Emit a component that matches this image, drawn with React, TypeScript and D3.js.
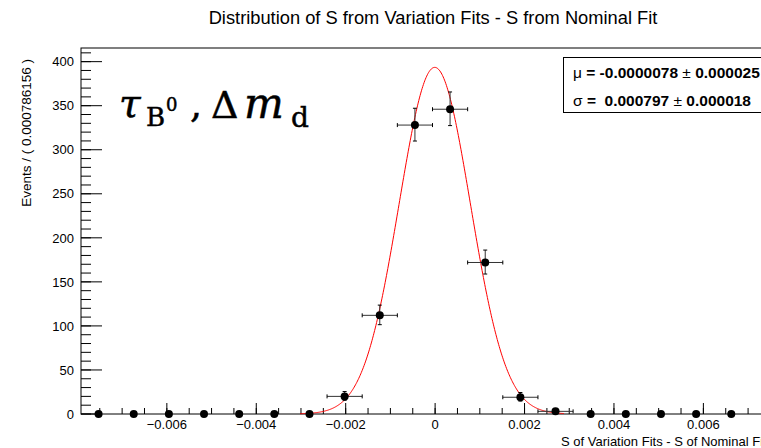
import React from 'react';
import * as d3 from 'd3';

const W = 761;
const H = 448;

// Histogram data (20 bins)
const binCounts = [0, 0, 0, 0, 0, 0, 0, 20, 112, 328, 346, 172, 19, 3, 0, 0, 0, 0, 0, 0];
const errLow = [0, 0, 0, 0, 0, 0, 0, 4.4, 10.6, 18.1, 18.6, 13.1, 4.3, 1.6, 0, 0, 0, 0, 0, 0];
const errHigh = [0, 0, 0, 0, 0, 0, 0, 5.5, 11.6, 19.1, 19.6, 14.1, 5.4, 2.9, 0, 0, 0, 0, 0, 0];
const xMin = -0.00792;
const binWidth = 0.000786156;

// Fit parameters
const fitMu = -0.0000078;
const fitSigma = 0.000797;
const fitN = 1000;
const fitRange = [-0.00302, 0.00288];

// Axis ticks
const yMajorTicks = [0, 50, 100, 150, 200, 250, 300, 350, 400];
const yMinorTicks = d3.range(0, 411, 10);
const xMajorTicks = [-0.006, -0.004, -0.002, 0, 0.002, 0.004, 0.006];
const xTickLabels = ['\u22120.006', '\u22120.004', '\u22120.002', '0', '0.002', '0.004', '0.006'];
const xMinorTicks = d3.range(-0.0075, 0.00751, 0.0005);

const title = 'Distribution of S from Variation Fits - S from Nominal Fit';
const xTitle = 'S of Variation Fits - S of Nominal Fit';
const yTitle = 'Events / ( 0.000786156 )';

export default function App() {
  const left = 81, right = 784, top = 48, bottom = 414;
  const xMax = xMin + binCounts.length * binWidth;
  const x = d3.scaleLinear().domain([xMin, xMax]).range([left, right]);
  const y = d3.scaleLinear().domain([0, 415.5]).range([bottom, top]);

  const centers = binCounts.map((_, i) => xMin + (i + 0.5) * binWidth);
  const amp = (fitN * binWidth) / (fitSigma * Math.sqrt(2 * Math.PI));
  const fitPts = d3.range(0, 401).map((i) => {
    const xv = fitRange[0] + (i / 400) * (fitRange[1] - fitRange[0]);
    return [xv, amp * Math.exp(-0.5 * ((xv - fitMu) / fitSigma) ** 2)] as [number, number];
  });
  const line = d3.line<[number, number]>().x((d) => x(d[0])).y((d) => y(d[1]));

  const font = 'Liberation Sans, Arial, Helvetica, sans-serif';

  return (
    <svg width={W} height={H} style={{ position: 'absolute', left: 0, top: 0, background: '#fff' }}>
      <rect x={0} y={0} width={W} height={H} fill="#fff" />
      {/* title */}
      <text x={433} y={24} textAnchor="middle" fontFamily={font} fontSize={18.3} fill="#000">{title}</text>

      {/* frame */}
      <rect x={left} y={top} width={right - left} height={bottom - top} fill="none" stroke="#000" strokeWidth={1} />

      {/* y axis ticks */}
      {yMinorTicks.map((t) => (
        <line key={'ym' + t} x1={left} x2={left + 10} y1={y(t)} y2={y(t)} stroke="#000" strokeWidth={1} />
      ))}
      {yMajorTicks.map((t) => (
        <g key={'yM' + t}>
          <line x1={left} x2={left + 21} y1={y(t)} y2={y(t)} stroke="#000" strokeWidth={1} />
          <text x={74} y={y(t)} dy="0.36em" textAnchor="end" fontFamily={font} fontSize={13} fill="#000">{t}</text>
        </g>
      ))}
      <text transform={`translate(31,59) rotate(-90)`} textAnchor="end" fontFamily={font} fontSize={13.5} fill="#000">{yTitle}</text>

      {/* x axis ticks */}
      {xMinorTicks.map((t) => (
        <line key={'xm' + t} x1={x(t)} x2={x(t)} y1={bottom} y2={bottom - 6} stroke="#000" strokeWidth={1} />
      ))}
      {xMajorTicks.map((t, i) => (
        <g key={'xM' + t}>
          <line x1={x(t)} x2={x(t)} y1={bottom} y2={bottom - 11} stroke="#000" strokeWidth={1} />
          <text x={x(t)} y={428.5} textAnchor="middle" fontFamily={font} fontSize={13} fill="#000">{xTickLabels[i]}</text>
        </g>
      ))}
      <text x={561} y={445.5} fontFamily={font} fontSize={13} fill="#000">{xTitle}</text>

      {/* fit curve */}
      <path d={line(fitPts) || ''} fill="none" stroke="#ff0000" strokeWidth={1} />

      {/* data points with error bars */}
      {binCounts.map((n, i) => {
        const cx = x(centers[i]);
        const cy = y(n);
        const x0 = x(centers[i] - binWidth / 2);
        const x1 = x(centers[i] + binWidth / 2);
        return (
          <g key={'p' + i}>
            {n > 0 && (
              <g stroke="#000" strokeWidth={1}>
                <line x1={x0} x2={x1} y1={cy} y2={cy} stroke="#333" />
                <line x1={x0} x2={x0} y1={cy - 2} y2={cy + 2} />
                <line x1={x1} x2={x1} y1={cy - 2} y2={cy + 2} />
                <line x1={cx} x2={cx} y1={y(n - errLow[i])} y2={y(n + errHigh[i])} stroke="#333" />
                <line x1={cx - 2} x2={cx + 2} y1={y(n - errLow[i])} y2={y(n - errLow[i])} />
                <line x1={cx - 2} x2={cx + 2} y1={y(n + errHigh[i])} y2={y(n + errHigh[i])} />
              </g>
            )}
            <circle cx={cx} cy={cy} r={4} fill="#000" />
          </g>
        );
      })}

      {/* stats box */}
      <rect x={563.5} y={57.5} width={260} height={55} fill="#fff" stroke="#000" strokeWidth={1} />
      <text x={573} y={77.5} fontFamily={font} fontSize={15.5} fontWeight="bold" fill="#000">
        <tspan fontWeight="normal">μ</tspan> = -0.0000078 <tspan fontWeight="normal">±</tspan> 0.000025
      </text>
      <text x={573} y={106} fontFamily={font} fontSize={15.5} fontWeight="bold" fill="#000" style={{ whiteSpace: 'pre' }}>
        <tspan fontWeight="normal">σ</tspan>{' =  0.000797 '}<tspan fontWeight="normal">±</tspan> 0.000018
      </text>

      {/* big label */}
      <g fontFamily="DejaVu Serif, serif" fill="#000" stroke="#000" strokeWidth={0.5}>
        <text x={119} y={117} fontSize={39} fontStyle="italic">τ</text>
        <text x={146} y={126} fontSize={26}>B</text>
        <text x={166} y={111} fontSize={18}>0</text>
        <text x={190} y={117} fontSize={38}>,</text>
        <text x={211} y={118} fontSize={38}>Δ</text>
        <text x={244} y={118} fontSize={42} fontStyle="italic">m</text>
        <text x={291} y={127} fontSize={28}>d</text>
      </g>
    </svg>
  );
}
